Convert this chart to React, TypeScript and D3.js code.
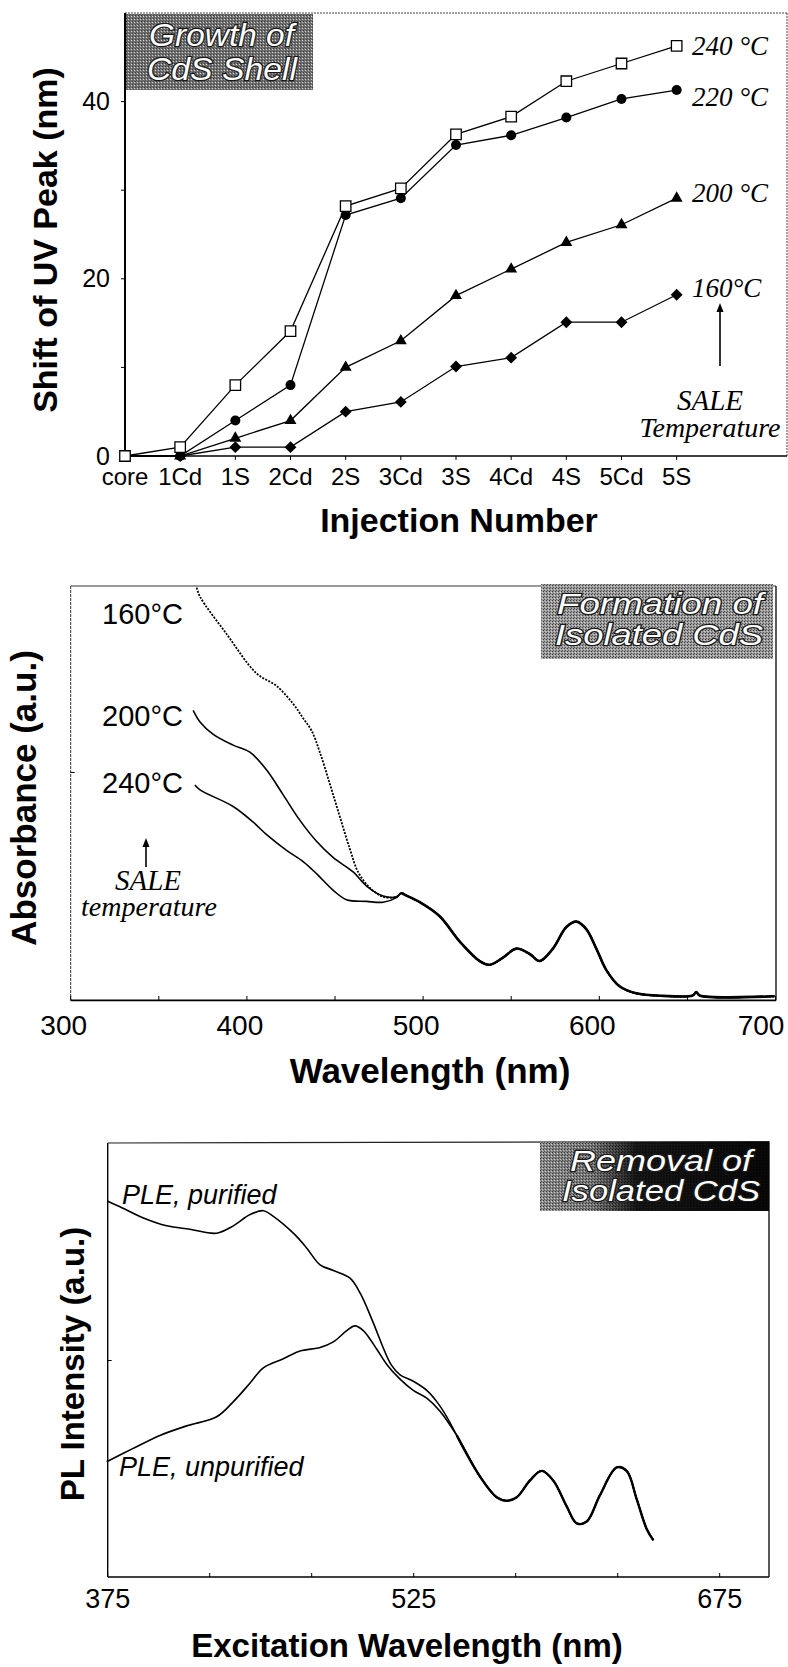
import * as d3 from "d3";
import React from "react";

// ---- panel 1: shift of UV peak vs injection number
const injections = ["core", "1Cd", "1S", "2Cd", "2S", "3Cd", "3S", "4Cd", "4S", "5Cd", "5S"]
const shift240 = [0, 1, 8, 14.1, 28.2, 30.2, 36.3, 38.3, 42.3, 44.3, 46.3]
const shift220 = [0, 0, 4, 8, 27.2, 29.1, 35.1, 36.2, 38.2, 40.3, 41.3]
const shift200 = [0, 0, 2, 4, 10, 13, 18.1, 21.1, 24.1, 26.1, 29.1]
const shift160 = [0, 0, 1, 1, 5, 6.1, 10.1, 11.1, 15.1, 15.1, 18.2]
const shiftTicks = [0, 20, 40]
const shiftMinor = [10, 30]

// ---- panel 2: absorbance spectra (wavelength, relative absorbance)
type Pt = [number, number]
const abs160: Pt[] = [[371.5, 0.996], [373.4, 0.974], [388.5, 0.884], [405.5, 0.789], [416.8, 0.759], [426.2, 0.716], [431.9, 0.681], [436.7, 0.651], [441.4, 0.599], [447.1, 0.522], [452.7, 0.444], [458.4, 0.366], [463.1, 0.31], [469.7, 0.272], [477.3, 0.25], [484.9, 0.25]]
const abs200: Pt[] = [[369.5, 0.7], [373.4, 0.672], [380.9, 0.642], [392.2, 0.616], [401.7, 0.599], [411.2, 0.556], [420.6, 0.496], [430, 0.435], [439.5, 0.384], [448.9, 0.345], [460.3, 0.31], [467.9, 0.276], [477.3, 0.252], [484.9, 0.25]]
const abs240: Pt[] = [[370.5, 0.52], [373.4, 0.508], [392.2, 0.468], [403.6, 0.43], [411.2, 0.4], [422.5, 0.362], [431.9, 0.335], [439.5, 0.306], [448.9, 0.266], [456.5, 0.243], [467.9, 0.239], [477.3, 0.237], [484.9, 0.248]]
const absTail: Pt[] = [[487.7, 0.259], [490, 0.254], [498.1, 0.237], [509.4, 0.203], [520.8, 0.142], [532.1, 0.095], [537.8, 0.086], [545.3, 0.103], [552.9, 0.125], [560.5, 0.112], [566.1, 0.095], [573.7, 0.125], [581.3, 0.177], [587, 0.19], [592.6, 0.172], [598.3, 0.125], [604, 0.073], [611.5, 0.034], [621, 0.017], [636.1, 0.011], [653, 0.012], [655, 0.02], [657, 0.012], [699.4, 0.01]]
const wlTicks = [300, 400, 500, 600, 700]
const wlMinor = [350, 450, 550, 650]

// ---- panel 3: PLE spectra
const plePure: Pt[] = [[375, 0.868], [381, 0.855], [392.5, 0.829], [403.9, 0.811], [415.3, 0.803], [428.4, 0.794], [436.6, 0.811], [444.8, 0.837], [451.3, 0.846], [456.2, 0.833], [466, 0.794], [472.5, 0.76], [479.1, 0.721], [485.6, 0.708], [493.8, 0.69], [498.7, 0.656], [505.2, 0.587], [510, 0.53], [514, 0.49], [518.3, 0.467], [524.8, 0.452], [531.4, 0.431], [536.3, 0.405], [541.2, 0.37]]
const pleCrude: Pt[] = [[374.5, 0.266], [387.5, 0.297], [400.6, 0.327], [413.7, 0.349], [428.4, 0.37], [436.6, 0.405], [444.8, 0.448], [451.3, 0.483], [461.1, 0.504], [469.3, 0.522], [479.1, 0.53], [485.6, 0.543], [492.2, 0.569], [496.2, 0.58], [500.3, 0.569], [506.9, 0.526], [511.8, 0.491], [518.3, 0.457], [524.8, 0.431], [531.4, 0.413], [537.9, 0.383]]
const pleTail: Pt[] = [[546.1, 0.327], [557.5, 0.232], [565.7, 0.184], [570.6, 0.176], [575.5, 0.184], [582, 0.223], [587.7, 0.245], [593.4, 0.223], [600, 0.163], [604.9, 0.124], [609.8, 0.128], [616.3, 0.189], [624.5, 0.253], [629.4, 0.245], [634.3, 0.18], [639.2, 0.111], [642.5, 0.085]]
const exTicks = [375, 525, 675]
const exMinor = [425, 475, 575, 625]

const sans = "'Liberation Sans', Arial, sans-serif"
const serif = "'Liberation Serif', 'Times New Roman', serif"

type BoxLine = { text: string, x: number, y: number, len: number }

function TitleBox({ x, y, w, h, lines, size, pattern, dark }: { x: number, y: number, w: number, h: number, lines: BoxLine[], size: number, pattern: string, dark?: boolean }) {
  return (
    <g>
      <rect x={x} y={y} width={w} height={h} fill={`url(#${pattern})`} />
      {dark && <rect x={x} y={y} width={w} height={h} fill="url(#darken)" />}
      {lines.map(l => (
        <text key={l.text} x={l.x} y={l.y} textLength={l.len} lengthAdjust="spacingAndGlyphs"
          fontFamily={sans} fontStyle="italic" fontSize={size} fill="#fff" stroke="#1a1a1a"
          strokeWidth={2.4} style={{ paintOrder: "stroke" }}>{l.text}</text>
      ))}
    </g>
  )
}

function Arrow({ x, y1, y2 }: { x: number, y1: number, y2: number }) {
  return (
    <g>
      <line x1={x} x2={x} y1={y1} y2={y2 + 6} stroke="#000" strokeWidth={1.6} />
      <path d={`M${x - 3.5},${y2 + 9}L${x},${y2}L${x + 3.5},${y2 + 9}Z`} fill="#000" />
    </g>
  )
}

function GrowthPanel() {
  const x = d3.scaleLinear().domain([0, 12]).range([125, 787])
  const y = d3.scaleLinear().domain([0, 50]).range([456, 13])
  const line = d3.line<number>().x((d, i) => x(i)).y(d => y(d))

  const square = d3.symbol(d3.symbolSquare, 110)()
  const circle = d3.symbol(d3.symbolCircle, Math.PI * 25)()
  const triangle = d3.symbol(d3.symbolTriangle, 62)()
  const diamond = d3.symbol(d3.symbolSquare, 70)()

  const series = [
    { data: shift160, label: "160°C", dy: 2, mark: (cx: number, cy: number, k: number) => <path key={k} d={diamond} transform={`translate(${cx},${cy}) rotate(45)`} fill="#000" /> },
    { data: shift200, label: "200 °C", dy: 4, mark: (cx: number, cy: number, k: number) => <path key={k} d={triangle} transform={`translate(${cx},${cy})`} fill="#000" /> },
    { data: shift220, label: "220 °C", dy: 16, mark: (cx: number, cy: number, k: number) => <path key={k} d={circle} transform={`translate(${cx},${cy})`} fill="#000" /> },
    { data: shift240, label: "240 °C", dy: 9, mark: (cx: number, cy: number, k: number) => <path key={k} d={square} transform={`translate(${cx},${cy})`} fill="#fff" stroke="#000" strokeWidth={1.3} /> },
  ]

  return (
    <g>
      <line x1={125} x2={787} y1={13} y2={13} stroke="#444" strokeWidth={1} strokeDasharray="2,1" />
      <line x1={787} x2={787} y1={13} y2={456} stroke="#444" strokeWidth={1} strokeDasharray="2,1" />
      <line x1={125} x2={125} y1={13} y2={456} stroke="#000" strokeWidth={2} />
      <line x1={125} x2={787} y1={456} y2={456} stroke="#000" strokeWidth={1.6} />
      {shiftTicks.concat(shiftMinor).map(t => <line key={t} x1={121} x2={125} y1={y(t)} y2={y(t)} stroke="#000" />)}
      {injections.map((c, i) => <line key={c} x1={x(i)} x2={x(i)} y1={456} y2={460} stroke="#000" />)}
      {shiftTicks.map(t => (
        <text key={t} x={110} y={y(t) + 8.6} textAnchor="end" fontFamily={sans} fontSize={25}>{t}</text>
      ))}
      {injections.map((c, i) => (
        <text key={c} x={x(i)} y={485} textAnchor="middle" fontFamily={sans} fontSize={24}>{c}</text>
      ))}
      <text x={459} y={532} textAnchor="middle" fontFamily={sans} fontWeight="bold" fontSize={34}>Injection Number</text>
      <text transform="translate(57,240) rotate(-90)" textAnchor="middle" fontFamily={sans} fontWeight="bold" fontSize={34}>Shift of UV Peak (nm)</text>

      {series.map(s => <path key={s.label} d={line(s.data) || ""} fill="none" stroke="#000" strokeWidth={1.3} />)}
      {series.map(s => s.data.map((d, i) => s.mark(x(i), y(d), i)))}
      {series.map(s => (
        <text key={s.label} x={692} y={y(s.data[s.data.length - 1]) + s.dy} fontFamily={serif} fontStyle="italic" fontSize={27}>{s.label}</text>
      ))}

      <Arrow x={720} y1={366} y2={303} />
      <text x={710} y={410} textAnchor="middle" fontFamily={serif} fontStyle="italic" fontSize={29}>SALE</text>
      <text x={710} y={437} textAnchor="middle" fontFamily={serif} fontStyle="italic" fontSize={28}>Temperature</text>

      <TitleBox x={126} y={14} w={187} h={76} size={32} pattern="ht1"
        lines={[{ text: "Growth of", x: 149, y: 46, len: 145 }, { text: "CdS Shell", x: 147, y: 80, len: 150 }]} />
    </g>
  )
}

function AbsorbancePanel() {
  const x = d3.scaleLinear().domain([300, 700]).range([70.7, 775.5])
  const y = d3.scaleLinear().domain([0, 1]).range([1000.4, 586])
  const line = d3.line<Pt>().x(d => x(d[0])).y(d => y(d[1])).curve(d3.curveCatmullRom.alpha(0.5))

  const curves = [
    { data: abs240.concat(absTail), dash: undefined, label: "240°C" },
    { data: abs200.concat(absTail), dash: undefined, label: "200°C" },
    { data: abs160.concat(absTail), dash: "2,1.4", label: "160°C" },
  ]
  const labels = [
    { text: "160°C", y: 624 },
    { text: "200°C", y: 726 },
    { text: "240°C", y: 793 },
  ]

  return (
    <g>
      <line x1={70.7} x2={776} y1={586} y2={586} stroke="#333" strokeWidth={1} />
      <line x1={776} x2={776} y1={586} y2={1000.4} stroke="#000" strokeWidth={1.3} />
      <line x1={70.7} x2={70.7} y1={586} y2={1000.4} stroke="#333" strokeWidth={1} strokeDasharray="3,1" />
      <line x1={70.7} x2={776} y1={1000.4} y2={1000.4} stroke="#000" strokeWidth={1.6} />
      {wlTicks.concat(wlMinor).map(t => <line key={t} x1={x(t)} x2={x(t)} y1={1000.4} y2={996} stroke="#000" />)}
      <line x1={70.7} x2={74.7} y1={y(0.55)} y2={y(0.55)} stroke="#000" />
      {wlTicks.map(t => (
        <text key={t} x={Math.min(x(t) - 7, 761)} y={1035} textAnchor="middle" fontFamily={sans} fontSize={28}>{t}</text>
      ))}
      <text x={430} y={1083} textAnchor="middle" fontFamily={sans} fontWeight="bold" fontSize={35}>Wavelength (nm)</text>
      <text transform="translate(36,798) rotate(-90)" textAnchor="middle" fontFamily={sans} fontWeight="bold" fontSize={35}>Absorbance (a.u.)</text>

      {curves.map(c => (
        <path key={c.label} d={line(c.data) || ""} fill="none" stroke="#000" strokeWidth={c.dash ? 1.8 : 1.6} strokeDasharray={c.dash} />
      ))}
      <path d={line(absTail) || ""} fill="none" stroke="#000" strokeWidth={2.6} />

      {labels.map(l => (
        <text key={l.text} x={183} y={l.y} textAnchor="end" fontFamily={sans} fontSize={29}>{l.text}</text>
      ))}
      <Arrow x={146} y1={867} y2={838} />
      <text x={148} y={890} textAnchor="middle" fontFamily={serif} fontStyle="italic" fontSize={29}>SALE</text>
      <text x={149} y={916} textAnchor="middle" fontFamily={serif} fontStyle="italic" fontSize={28}>temperature</text>

      <TitleBox x={541} y={584} w={232} h={75} size={29} pattern="ht2"
        lines={[{ text: "Formation of", x: 557, y: 614, len: 206 }, { text: "Isolated CdS", x: 555, y: 645, len: 208 }]} />
    </g>
  )
}

function PlePanel() {
  const x = d3.scaleLinear().domain([375, 675]).range([107.7, 719.7])
  const y = d3.scaleLinear().domain([0, 1]).range([1577, 1144])
  const line = d3.line<Pt>().x(d => x(d[0])).y(d => y(d[1])).curve(d3.curveCatmullRom.alpha(0.5))

  return (
    <g>
      <line x1={107.7} x2={769} y1={1143} y2={1141.5} stroke="#222" strokeWidth={1.1} />
      <line x1={769} x2={769} y1={1141.5} y2={1577} stroke="#000" strokeWidth={1.3} />
      <line x1={107.7} x2={107.7} y1={1143} y2={1577} stroke="#000" strokeWidth={1.4} />
      <line x1={107.7} x2={769} y1={1577} y2={1577} stroke="#000" strokeWidth={1.5} />
      {exTicks.concat(exMinor).map(t => <line key={t} x1={x(t)} x2={x(t)} y1={1577} y2={1573} stroke="#000" />)}
      <line x1={107.7} x2={111.7} y1={y(0.5)} y2={y(0.5)} stroke="#000" />
      {exTicks.map(t => (
        <text key={t} x={x(t)} y={1608} textAnchor="middle" fontFamily={sans} fontSize={27}>{t}</text>
      ))}
      <text x={407} y={1657} textAnchor="middle" fontFamily={sans} fontWeight="bold" fontSize={33}>Excitation Wavelength (nm)</text>
      <text transform="translate(84,1364) rotate(-90)" textAnchor="middle" fontFamily={sans} fontWeight="bold" fontSize={33}>PL Intensity (a.u.)</text>

      <path d={line(plePure.concat(pleTail)) || ""} fill="none" stroke="#000" strokeWidth={1.6} />
      <path d={line(pleCrude.concat(pleTail)) || ""} fill="none" stroke="#000" strokeWidth={1.6} />
      <path d={line(pleTail) || ""} fill="none" stroke="#000" strokeWidth={2.4} />

      <text x={122} y={1204} fontFamily={sans} fontStyle="italic" fontSize={27}>PLE, purified</text>
      <text x={119} y={1476} fontFamily={sans} fontStyle="italic" fontSize={27}>PLE, unpurified</text>

      <TitleBox x={540} y={1142} w={229} h={69} size={30} pattern="ht3" dark
        lines={[{ text: "Removal of", x: 570, y: 1171, len: 182 }, { text: "Isolated CdS", x: 562, y: 1201, len: 198 }]} />
    </g>
  )
}

function Halftone({ id, base }: { id: string, base: string }) {
  return (
    <pattern id={id} width="3" height="3" patternUnits="userSpaceOnUse">
      <rect width="3" height="3" fill={base} />
      <rect x="0" y="0" width="1" height="1" fill="#3c3c3c" />
      <rect x="2" y="1" width="1" height="1" fill="#d0d0d0" />
      <rect x="1" y="2" width="1" height="1" fill="#5a5a5a" />
    </pattern>
  )
}

export default function App() {
  return (
    <svg width={788} height={1667} style={{ position: "absolute", left: 0, top: 0, background: "#fff" }}>
      <defs>
        <Halftone id="ht1" base="#727272" />
        <Halftone id="ht2" base="#9c9c9c" />
        <Halftone id="ht3" base="#8c8c8c" />
        <linearGradient id="darken" x1="0" x2="1" y1="0" y2="0">
          <stop offset="0" stopColor="#000" stopOpacity="0" />
          <stop offset="0.22" stopColor="#000" stopOpacity="0.15" />
          <stop offset="0.42" stopColor="#000" stopOpacity="0.85" />
          <stop offset="1" stopColor="#000" stopOpacity="0.95" />
        </linearGradient>
      </defs>
      <GrowthPanel />
      <AbsorbancePanel />
      <PlePanel />
    </svg>
  )
}
